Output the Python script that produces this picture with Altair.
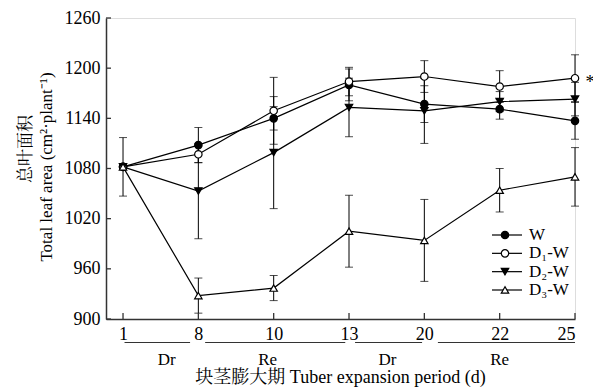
import json
import altair as alt
import pandas as pd

# ---------------- data ----------------
days = ["1", "8", "10", "13", "20", "22", "25"]
series = ["W", "D₁-W", "D₂-W", "D₃-W"]

w_mean = [1082, 1108, 1140, 1180, 1157, 1151, 1137]
w_err = [35, 21, 14, 19, 22, 12, 22]
d1_mean = [1082, 1097, 1149, 1184, 1190, 1178, 1188]
d1_err = [0, 10, 40, 17, 19, 19, 28]
d2_mean = [1082, 1053, 1099, 1153, 1149, 1160, 1163]
d2_err = [0, 57, 67, 35, 39, 12, 20]
d3_mean = [1082, 928, 937, 1005, 994, 1054, 1070]
d3_err = [0, 21, 15, 43, 49, 26, 35]

y_ticks = [900, 960, 1020, 1080, 1140, 1200, 1260]

periods = ["Dr", "Re", "Dr", "Re"]
period_start = [0.02, 1.09, 3.08, 4.18]
period_end = [0.89, 2.95, 3.97, 6.0]
period_mid = [0.58, 1.92, 3.51, 5.0]

x_title = "块茎膨大期 Tuber expansion period (d)"
y_title_cn = "总叶面积"
y_title_en = "Total leaf area (cm²·plant⁻¹)"

# ---------------- tables ----------------
rows = []
for name, m, e in zip(series, [w_mean, d1_mean, d2_mean, d3_mean],
                      [w_err, d1_err, d2_err, d3_err]):
    for i, (mv, ev) in enumerate(zip(m, e)):
        rows.append({"series": name, "i": i, "day": days[i], "mean": mv,
                     "lo": mv - ev, "hi": mv + ev})
df = pd.DataFrame(rows)
err_df = df[df.hi > df.lo]
star_df = df[(df.series == series[1]) & (df.i == len(days) - 1)].copy()
star_df["t"] = "*"

ytick_df = pd.DataFrame({"v": y_ticks})
xtick_df = pd.DataFrame({"i": list(range(len(days)))})
period_df = pd.DataFrame({"p": periods, "s": period_start, "e": period_end, "m": period_mid})
title_df = pd.DataFrame({"t": [x_title], "cn": [y_title_cn], "en": [y_title_en]})
legend_df = pd.DataFrame({"series": series, "row": list(range(len(series)))})

FONT = "Liberation Serif, Times New Roman, Noto Serif CJK SC, Noto Sans CJK SC"
AX = "#333333"

shape_scale = alt.Scale(domain=series, range=["circle", "circle", "triangle-down", "triangle-up"])
fill_scale = alt.Scale(domain=series, range=["black", "white", "black", "white"])
size_scale = alt.Scale(domain=series, range=[55, 55, 75, 75])

xs = alt.Scale(domain=[-0.226, 6], nice=False, zero=False)
ys = alt.Scale(domain=[900, 1260], nice=False, zero=False)

label_expr = json.dumps(days) + "[datum.value]"

X = alt.X("i:Q", scale=xs,
          axis=alt.Axis(values=list(range(len(days))), labelExpr=label_expr,
                        title=None, ticks=False, grid=False, labelPadding=6,
                        domainColor=AX, domainWidth=1.5, labelFont=FONT,
                        labelFontSize=18, labelColor="black"))
Y = alt.Y("mean:Q", scale=ys,
          axis=alt.Axis(values=y_ticks, format="d", title=None, ticks=False, grid=False,
                        labelPadding=6, domainColor=AX, domainWidth=1.5,
                        labelFont=FONT, labelFontSize=18, labelColor="black"))

base = alt.Chart(df)
ebase = alt.Chart(err_df)

err = ebase.mark_rule(color="black", strokeWidth=1).encode(
    x=alt.X("i:Q", scale=xs), y=alt.Y("lo:Q", scale=ys), y2="hi:Q")
cap_lo = ebase.mark_tick(color="black", size=8, thickness=1, orient="horizontal").encode(
    x=alt.X("i:Q", scale=xs), y=alt.Y("lo:Q", scale=ys))
cap_hi = ebase.mark_tick(color="black", size=8, thickness=1, orient="horizontal").encode(
    x=alt.X("i:Q", scale=xs), y=alt.Y("hi:Q", scale=ys))
lines = base.mark_line(color="black", strokeWidth=1.2).encode(
    x=X, y=Y, detail="series:N")
points = base.mark_point(stroke="black", strokeWidth=1.2, opacity=1, filled=False).encode(
    x=alt.X("i:Q", scale=xs), y=alt.Y("mean:Q", scale=ys),
    shape=alt.Shape("series:N", scale=shape_scale, legend=None),
    fill=alt.Fill("series:N", scale=fill_scale, legend=None),
    size=alt.Size("series:N", scale=size_scale, legend=None))

star = alt.Chart(star_df).mark_text(font=FONT, fontSize=18, dx=15, dy=5,
                                    baseline="middle", color="black").encode(
    x=alt.X("i:Q", scale=xs), y=alt.Y("mean:Q", scale=ys), text="t:N")

yticks = alt.Chart(ytick_df).mark_rule(color=AX, strokeWidth=1.3).encode(
    y=alt.Y("v:Q", scale=ys), x=alt.value(0), x2=alt.value(5))
xticks = alt.Chart(xtick_df).mark_rule(color=AX, strokeWidth=1.3).encode(
    x=alt.X("i:Q", scale=xs), y=alt.value(301), y2=alt.value(295))

p_lines = alt.Chart(period_df).mark_rule(color=AX, strokeWidth=1.2).encode(
    x=alt.X("s:Q", scale=xs), x2="e:Q", y=alt.value(324.5))
p_text = alt.Chart(period_df).mark_text(font=FONT, fontSize=17, baseline="alphabetic",
                                        color="black").encode(
    x=alt.X("m:Q", scale=xs), y=alt.value(347), text="p:N")

t_x = alt.Chart(title_df).mark_text(font=FONT, fontSize=18, baseline="alphabetic",
                                    color="black").encode(
    x=alt.value(234.5), y=alt.value(365), text="t:N")
t_cn = alt.Chart(title_df).mark_text(font=FONT, fontSize=17, baseline="middle",
                                     angle=270, color="black").encode(
    x=alt.value(-80), y=alt.value(131), text="cn:N")
t_en = alt.Chart(title_df).mark_text(font=FONT, fontSize=17, baseline="middle",
                                     angle=270, color="black").encode(
    x=alt.value(-59), y=alt.value(149), text="en:N")

main = alt.layer(err, cap_lo, cap_hi, lines, points, star, yticks, xticks,
                 p_lines, p_text, t_x, t_cn, t_en)

leg_y = alt.Y("row:Q", scale=alt.Scale(domain=[0, 3], range=[217, 272]), axis=None)
leg_base = alt.Chart(legend_df)
leg_rule = leg_base.mark_rule(color="black", strokeWidth=1.2).encode(
    y=leg_y, x=alt.value(386), x2=alt.value(416))
leg_pt = leg_base.mark_point(stroke="black", strokeWidth=1.2, opacity=1).encode(
    y=leg_y, x=alt.value(399),
    shape=alt.Shape("series:N", scale=shape_scale, legend=None),
    fill=alt.Fill("series:N", scale=fill_scale, legend=None),
    size=alt.Size("series:N", scale=size_scale, legend=None))
leg_txt = leg_base.mark_text(font=FONT, fontSize=17, align="left", baseline="middle",
                             color="black").encode(
    y=leg_y, x=alt.value(423), text="series:N")
legend = alt.layer(leg_rule, leg_pt, leg_txt)

chart = alt.layer(main, legend).resolve_scale(y="independent").properties(
    width=469, height=301,
    autosize=alt.AutoSizeParams(type="none"),
    padding={"left": 106, "top": 18, "right": 18, "bottom": 68},
).configure_view(stroke=None).configure(background="white")

chart.save("out.html", embed_options={"renderer": "svg", "actions": False})
